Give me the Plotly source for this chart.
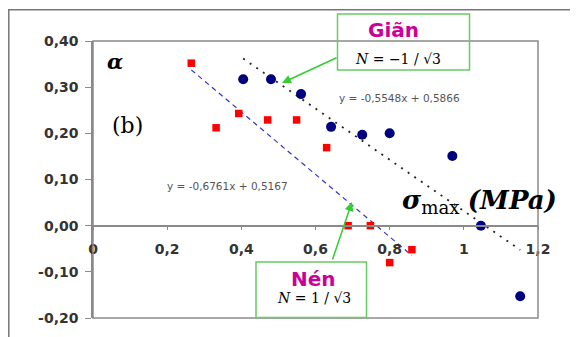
import plotly.graph_objects as go

# ---- data ----
gian_x = [0.405, 0.48, 0.561, 0.642, 0.726, 0.80, 0.969, 1.046, 1.152]
gian_y = [0.317, 0.317, 0.285, 0.214, 0.197, 0.200, 0.151, 0.000, -0.153]
nen_x = [0.265, 0.332, 0.393, 0.471, 0.549, 0.630, 0.688, 0.748, 0.800, 0.860]
nen_y = [0.352, 0.212, 0.243, 0.229, 0.229, 0.169, 0.000, 0.000, -0.080, -0.052]
# Excel trend lines (slope, intercept) as printed on the chart
gian_fit = (-0.5548, 0.5866)
nen_fit = (-0.6761, 0.5167)
gian_eq = "y = -0,5548x + 0,5866"
nen_eq = "y = -0,6761x + 0,5167"

x_ticks = [0, 0.2, 0.4, 0.6, 0.8, 1.0, 1.2]
x_ticktext = ["0", "0,2", "0,4", "0,6", "0,8", "1", "1,2"]
y_ticks = [-0.2, -0.1, 0.0, 0.1, 0.2, 0.3, 0.4]
y_ticktext = ["-0,20", "-0,10", "0,00", "0,10", "0,20", "0,30", "0,40"]


def fit_line(xs, fit):
    x0, x1 = min(xs), max(xs)
    m, b = fit
    return [x0, x1], [m * x0 + b, m * x1 + b]


gfx, gfy = fit_line(gian_x, gian_fit)
nfx, nfy = fit_line(nen_x, nen_fit)

fig = go.Figure()
fig.add_trace(go.Scatter(x=gfx, y=gfy, mode="lines",
                         line=dict(color="#222222", width=1.8, dash="2px,6px"),
                         showlegend=False, hoverinfo="skip"))
fig.add_trace(go.Scatter(x=nfx, y=nfy, mode="lines",
                         line=dict(color="#3333CC", width=1.2, dash="5px,4px"),
                         showlegend=False, hoverinfo="skip"))
fig.add_trace(go.Scatter(x=gian_x, y=gian_y, mode="markers",
                         marker=dict(symbol="circle", size=10, color="#000080"),
                         showlegend=False, cliponaxis=False))
fig.add_trace(go.Scatter(x=nen_x, y=nen_y, mode="markers",
                         marker=dict(symbol="square", size=7.5, color="#FF0000"),
                         showlegend=False, cliponaxis=False))

TICKFONT = dict(family="DejaVu Sans", size=14, color="#333333", weight="bold")
GRAY = "#8a8a8a"

# the page body has an 8px margin, so the figure is drawn 8px smaller and
# its plot area is placed so that on screen it spans x 93..538, y 41..318
OFF = 8
fig.update_layout(
    width=578 - OFF, height=337 - OFF,
    margin=dict(l=93 - OFF, r=(578 - OFF) - (538 - OFF), t=41 - OFF,
                b=(337 - OFF) - (318 - OFF)),
    paper_bgcolor="white", plot_bgcolor="white",
    showlegend=False,
    xaxis=dict(range=[0, 1.2], anchor="free", position=1/3,
               showline=True, linecolor=GRAY, linewidth=1.5,
               ticks="outside", ticklen=4, tickcolor=GRAY, tickwidth=1,
               tickvals=x_ticks, ticktext=x_ticktext, tickfont=TICKFONT,
               ticklabelstandoff=7,
               showgrid=False, zeroline=False),
    yaxis=dict(range=[-0.2, 0.4],
               showline=True, linecolor=GRAY, linewidth=1.5,
               ticks="outside", ticklen=6, tickcolor=GRAY, tickwidth=1,
               tickvals=y_ticks, ticktext=y_ticktext, tickfont=TICKFONT,
               ticklabelstandoff=4,
               showgrid=False, zeroline=False),
)

# plot frame and outer frame
fig.add_shape(type="rect", xref="paper", yref="paper", x0=0, x1=1, y0=0, y1=1,
              line=dict(color=GRAY, width=1.5), layer="above")


def px(x):
    return (x - 93) / 445.0


def py(y):
    return (318 - y) / 277.0


fig.add_shape(type="rect", xref="paper", yref="paper",
              x0=px(8.8), x1=px(600), y0=py(360), y1=py(9.8),
              line=dict(color="#777777", width=1.5), layer="below")

# label boxes
BOXGREEN = "#66CC66"
fig.add_shape(type="rect", xref="paper", yref="paper",
              x0=px(337.5), x1=px(469.5), y0=py(70), y1=py(14),
              line=dict(color=BOXGREEN, width=1.5), fillcolor="rgba(0,0,0,0)")
fig.add_shape(type="rect", xref="paper", yref="paper",
              x0=px(256), x1=px(366.5), y0=py(317.5), y1=py(262),
              line=dict(color=BOXGREEN, width=1.5), fillcolor="white")

ann = []


def text(x, y, s, font, xanchor="center"):
    ann.append(dict(x=px(x), y=py(y), xref="paper", yref="paper", text=s,
                    showarrow=False, font=font, xanchor=xanchor, yanchor="middle"))


MAG = "#CC0099"
text(114.5, 61, "<b><i>α</i></b>", dict(family="DejaVu Serif", size=21, color="black"))
text(127, 125, "(b)", dict(family="DejaVu Serif", size=22, color="black"))
text(399.5, 98, gian_eq, dict(family="DejaVu Sans", size=10.5, color="#555555"))
text(227, 186, nen_eq, dict(family="DejaVu Sans", size=10.5, color="#555555"))
text(393, 30, "Giãn", dict(family="DejaVu Sans", size=20, color=MAG, weight="bold"))
text(398, 59, "<i>N</i> = −1 / √3", dict(family="DejaVu Serif", size=14, color="black"))
text(313, 279, "Nén", dict(family="DejaVu Sans", size=20, color=MAG, weight="bold"))
text(314, 298, "<i>N</i> = 1 / √3", dict(family="DejaVu Serif", size=14, color="black"))
ann.append(dict(x=px(400), y=py(201), xref="paper", yref="paper",
                text="<b><i>σ</i></b><sub>max</sub> <b><i>(MPa)</i></b>",
                showarrow=False, xanchor="left", yanchor="middle",
                font=dict(family="DejaVu Serif", size=26, color="black")))

ARROW = "#33CC33"
ann.append(dict(x=px(282), y=py(83), xref="paper", yref="paper", text="",
                showarrow=True, ax=56, ay=-26, axref="pixel", ayref="pixel",
                arrowhead=2, arrowsize=1.2, arrowwidth=1.5, arrowcolor=ARROW))
ann.append(dict(x=px(352), y=py(202), xref="paper", yref="paper", text="",
                showarrow=True, ax=-20, ay=59, axref="pixel", ayref="pixel",
                arrowhead=2, arrowsize=1.2, arrowwidth=1.5, arrowcolor=ARROW))
fig.update_layout(annotations=ann)

fig.write_html("out.html")
